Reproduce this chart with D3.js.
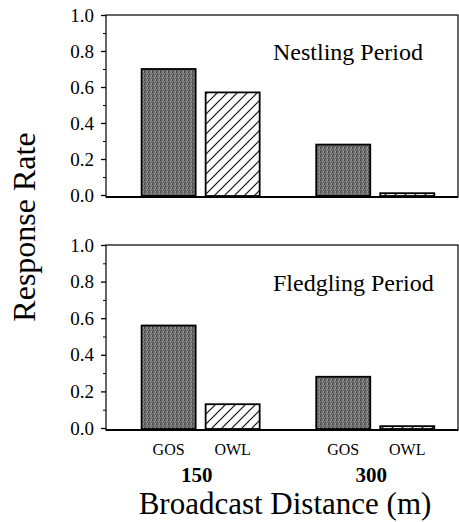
<!DOCTYPE html>
<html>
<head>
<meta charset="utf-8">
<script src="https://cdn.jsdelivr.net/npm/d3@7"></script>
<style>
  body { margin: 0; background: #fff; }
  svg { display: block; font-family: "Liberation Serif", "Times New Roman", serif; }
</style>
</head>
<body>
<div id="chart"></div>
<script>
const distances = ["150", "300"]
const treatments = ["GOS", "OWL"]
const nestling = [0.70, 0.57, 0.28, 0.01]
const fledgling = [0.56, 0.13, 0.28, 0.01]
const majorTicks = [0, 0.2, 0.4, 0.6, 0.8, 1.0]
const minorTicks = [0.1, 0.3, 0.5, 0.7, 0.9]

const width = 459, height = 522
const left = 106, right = 458
const serif = "Liberation Serif"

const svg = d3.select("#chart").append("svg")
  .attr("width", width)
  .attr("height", height)

// fills: speckled gray and diagonal hatch
const defs = svg.append("defs")
const gray = defs.append("pattern")
  .attr("id", "gray").attr("patternUnits", "userSpaceOnUse")
  .attr("width", 4).attr("height", 4)
gray.append("rect").attr("width", 4).attr("height", 4).attr("fill", "#6e6e6e")
const specks = [[0, 0, "#4a4a4a"], [2, 1, "#9a9a9a"], [1, 2, "#525252"], [3, 3, "#a4a4a4"], [3, 0, "#888"], [0, 3, "#444"]]
gray.selectAll("rect.s").data(specks).enter().append("rect")
  .attr("class", "s")
  .attr("x", d => d[0]).attr("y", d => d[1])
  .attr("width", 1).attr("height", 1)
  .attr("fill", d => d[2])

const hatch = defs.append("pattern")
  .attr("id", "hatch").attr("patternUnits", "userSpaceOnUse")
  .attr("width", 10).attr("height", 10)
hatch.append("rect").attr("width", 10).attr("height", 10).attr("fill", "#fff")
hatch.append("path")
  .attr("d", "M-1,11 L11,-1 M-6,6 L6,-6 M4,16 L16,4")
  .attr("stroke", "#111").attr("stroke-width", 1.2)

const x = d3.scaleBand()
  .domain(distances)
  .range([left, right])
  .paddingInner(0.324)
  .paddingOuter(0.17)
  .align(0.6)

const xInner = d3.scaleBand()
  .domain(treatments)
  .range([0, x.bandwidth()])
  .paddingInner(0.156)

const fills = { GOS: "url(#gray)", OWL: "url(#hatch)" }

const drawPanel = (top, bottom, values, title, titleY) => {
  const y = d3.scaleLinear().domain([0, 1]).range([bottom, top])
  const g = svg.append("g")

  const rows = values.map((v, i) => ({
    dist: distances[Math.floor(i / 2)],
    treat: treatments[i % 2],
    value: v
  }))

  g.selectAll(".bar")
    .data(rows)
    .enter().append("rect")
    .attr("class", "bar")
    .attr("x", d => x(d.dist) + xInner(d.treat))
    .attr("y", d => y(d.value))
    .attr("width", xInner.bandwidth())
    .attr("height", d => y(0) - y(d.value) + 1)
    .attr("fill", d => fills[d.treat])
    .attr("stroke", "#000")
    .attr("stroke-width", 1.8)

  // frame
  g.append("rect")
    .attr("x", left).attr("y", y(1))
    .attr("width", right - left).attr("height", y(0) - y(1) + 2)
    .attr("fill", "none").attr("stroke", "#000").attr("stroke-width", 1.2)
  g.append("line")
    .attr("x1", left).attr("x2", right)
    .attr("y1", y(0) + 2).attr("y2", y(0) + 2)
    .attr("stroke", "#000").attr("stroke-width", 2)

  const axis = g.append("g")
    .attr("transform", `translate(${left},0)`)
    .call(d3.axisLeft(y).tickValues(majorTicks).tickFormat(d3.format(".1f")).tickSize(5).tickPadding(7))
    .attr("font-family", serif)
    .attr("font-size", 19)
  axis.select(".domain").remove()
  axis.selectAll("line").attr("stroke-width", 1.3)
  axis.selectAll("text").attr("fill", "#000")

  const minor = g.append("g")
    .attr("transform", `translate(${left},0)`)
    .call(d3.axisLeft(y).tickValues(minorTicks).tickFormat("").tickSize(3))
  minor.select(".domain").remove()

  g.append("text")
    .attr("x", 273).attr("y", titleY)
    .attr("font-size", 24)
    .text(title)
}

drawPanel(15, 195, nestling, "Nestling Period", 60)
drawPanel(245, 428, fledgling, "Fledgling Period", 291)

// category labels
const labels = []
distances.forEach(d => treatments.forEach(t => labels.push({ dist: d, treat: t })))
svg.selectAll(".treat")
  .data(labels)
  .enter().append("text")
  .attr("class", "treat")
  .attr("x", d => x(d.dist) + xInner(d.treat) + xInner.bandwidth() / 2)
  .attr("y", 455)
  .attr("text-anchor", "middle")
  .attr("font-size", 16)
  .text(d => d.treat)

svg.selectAll(".dist")
  .data(distances)
  .enter().append("text")
  .attr("class", "dist")
  .attr("x", d => x(d) + x.bandwidth() / 2 - 4)
  .attr("y", 482)
  .attr("text-anchor", "middle")
  .attr("font-size", 21)
  .attr("font-weight", "bold")
  .text(d => d)

svg.append("text")
  .attr("x", 285).attr("y", 514)
  .attr("text-anchor", "middle")
  .attr("font-size", 31)
  .text("Broadcast Distance (m)")

svg.append("text")
  .attr("transform", "translate(35,227) rotate(-90)")
  .attr("text-anchor", "middle")
  .attr("font-size", 32)
  .text("Response Rate")
</script>
</body>
</html>
